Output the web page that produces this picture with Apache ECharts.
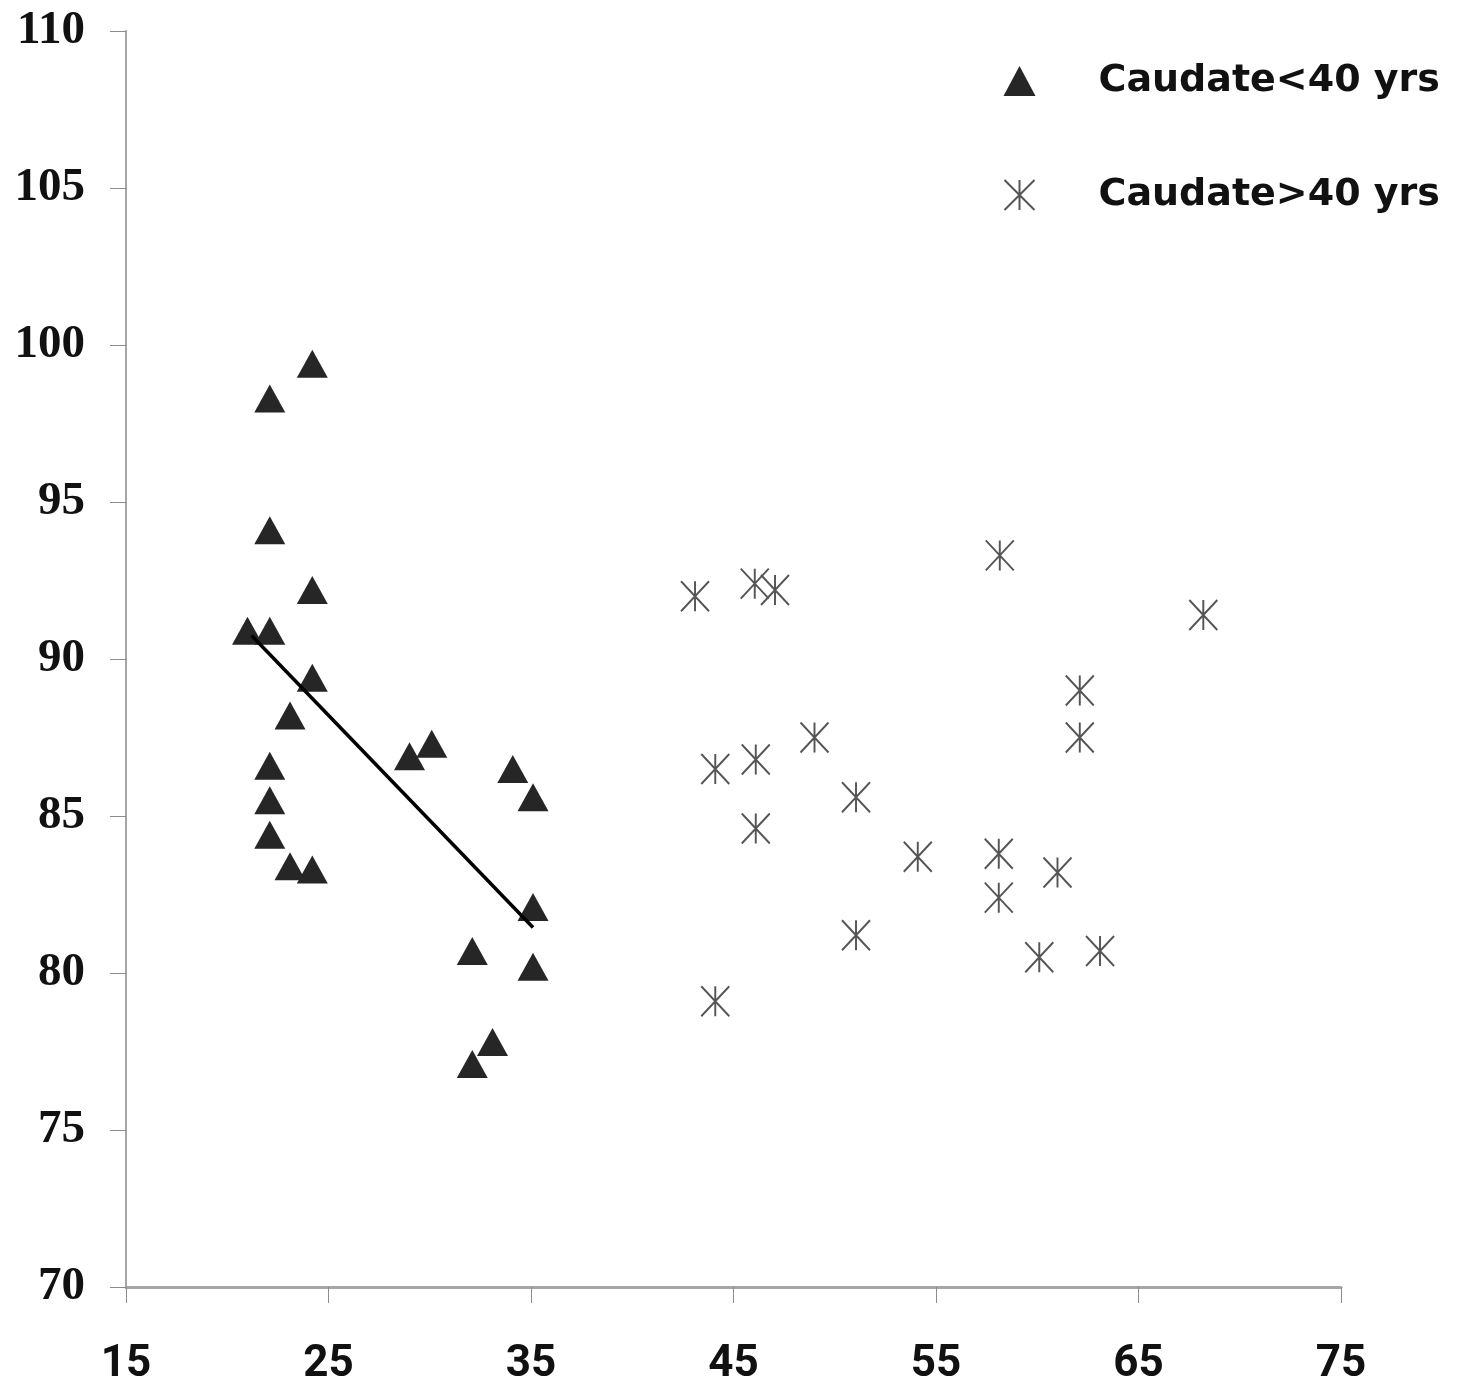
<!DOCTYPE html>
<html>
<head>
    <meta charset="utf-8">
    <title>Caudate scatter</title>
    <script src="https://cdn.jsdelivr.net/npm/echarts@6/dist/echarts.min.js"></script>
    <style>
        body, html { margin: 0; padding: 0; background: #fff; }
        #main { width: 1459px; height: 1390px; }
    </style>
</head>
<body>
    <div id="main"></div>
    <script>
        // age (x) and value (y), caudate < 40 yrs
        var youngAge = [21, 22.1, 22.1, 24.2, 22.1, 24.2, 24.2, 23.1, 22.1, 22.1, 22.1, 23.1, 24.2, 29, 30.1, 34.1, 35.1, 35.1, 35.1, 32.1, 33.1, 32.1];
        var youngVal = [90.9, 90.9, 98.3, 99.4, 94.1, 92.2, 89.4, 88.2, 86.6, 85.5, 84.4, 83.4, 83.3, 86.9, 87.3, 86.5, 85.6, 82.1, 80.2, 80.7, 77.8, 77.1];

        // caudate > 40 yrs
        var oldAge = [43.1, 46.05, 47.05, 49, 44.1, 46.1, 51.05, 46.1, 54.1, 58.15, 68.2, 62.1, 62.1, 58.1, 58.1, 61, 60.1, 63.1, 51.05, 44.1];
        var oldVal = [92.0, 92.4, 92.2, 87.5, 86.5, 86.8, 85.6, 84.6, 83.7, 93.3, 91.4, 89.0, 87.5, 83.8, 82.4, 83.2, 80.5, 80.7, 81.2, 79.1];

        // trend line through the young group
        var trendAge = [21.2, 35.1];
        var trendVal = [90.75, 81.45];

        var xTicks = [15, 25, 35, 45, 55, 65, 75];
        var yTicks = [70, 75, 80, 85, 90, 95, 100, 105, 110];

        function pairs(xs, ys) {
            return xs.map(function (x, i) { return [x, ys[i]]; });
        }

        var starPath = 'path://M0,0L20,20M20,0L0,20M10,0L10,20';

        var chart = echarts.init(document.getElementById('main'));
        chart.setOption({
            backgroundColor: '#ffffff',
            animation: false,
            grid: { left: 126, right: 118, top: 31, bottom: 103, containLabel: false, outerBoundsMode: 'none' },
            xAxis: {
                type: 'value',
                min: xTicks[0],
                max: xTicks[xTicks.length - 1],
                interval: 10,
                splitLine: { show: false },
                axisLine: { lineStyle: { color: '#a6a6a6', width: 3 } },
                axisTick: { show: true, length: 16, lineStyle: { color: '#8c8c8c', width: 1 } },
                axisLabel: {
                    margin: 56,
                    color: '#111',
                    fontWeight: 'bold',
                    fontSize: 44,
                    fontFamily: "'Liberation Sans Narrow', Roboto, sans-serif"
                }
            },
            yAxis: {
                type: 'value',
                min: yTicks[0],
                max: yTicks[yTicks.length - 1],
                interval: 5,
                splitLine: { show: false },
                axisLine: { show: true, lineStyle: { color: '#a6a6a6', width: 2 } },
                axisTick: { show: true, length: 16, lineStyle: { color: '#8c8c8c', width: 1 } },
                axisLabel: {
                    margin: 41,
                    color: '#111',
                    fontWeight: 'bold',
                    fontSize: 47,
                    fontFamily: "'Liberation Serif', 'DejaVu Serif', serif"
                }
            },
            legend: {
                data: ['Caudate<40 yrs', 'Caudate>40 yrs'],
                orient: 'vertical',
                left: 1002,
                top: 62,
                padding: 0,
                itemWidth: 32,
                itemHeight: 30,
                itemGap: 76,
                textStyle: {
                    color: '#111',
                    fontWeight: 'bold',
                    fontSize: 38,
                    fontFamily: "'DejaVu Sans', sans-serif",
                    padding: [0, 0, 0, 58]
                }
            },
            series: [
                {
                    name: 'Caudate<40 yrs',
                    type: 'scatter',
                    symbol: 'triangle',
                    symbolSize: [31, 28],
                    itemStyle: { color: '#262626', opacity: 1 },
                    data: pairs(youngAge, youngVal),
                    z: 3
                },
                {
                    name: 'Caudate>40 yrs',
                    type: 'scatter',
                    symbol: starPath,
                    symbolSize: [28, 30],
                    itemStyle: { color: 'none', borderColor: '#555555', borderWidth: 2, opacity: 1 },
                    data: pairs(oldAge, oldVal),
                    z: 3
                },
                {
                    name: 'trend',
                    type: 'line',
                    showSymbol: false,
                    symbol: 'none',
                    lineStyle: { color: '#000', width: 3.5 },
                    data: pairs(trendAge, trendVal),
                    z: 4
                }
            ]
        });
    </script>
</body>
</html>
